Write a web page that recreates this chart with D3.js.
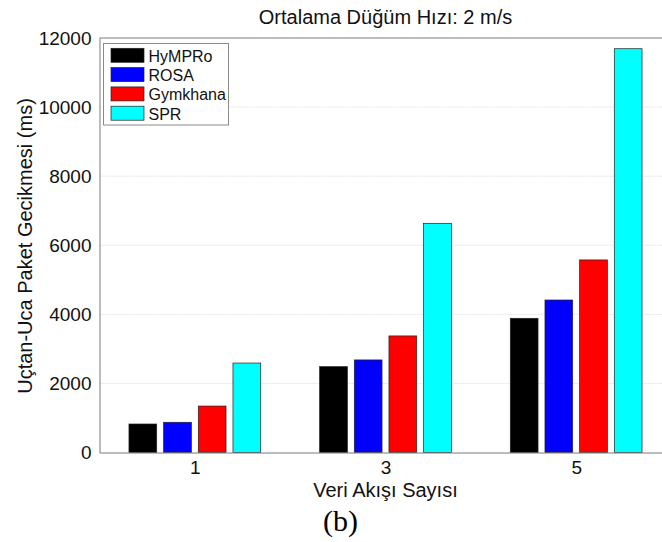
<!DOCTYPE html>
<html>
<head>
<meta charset="utf-8">
<script src="https://cdn.jsdelivr.net/npm/d3@7"></script>
<style>
  html, body { margin: 0; padding: 0; background: #fff; }
  svg { display: block; }
</style>
</head>
<body>
<svg id="chart" width="662" height="542"></svg>
<script>
// Number of data flows on the x axis
const flows = [1, 3, 5];
// Routing protocols compared
const protocols = ["HyMPRo", "ROSA", "Gymkhana", "SPR"];
// End-to-end packet delay (ms) per protocol, one value per flow count
const hympro   = [825, 2485, 3885];
const rosa     = [875, 2680, 4415];
const gymkhana = [1345, 3375, 5575];
const spr      = [2590, 6635, 11690];
const yTicks = [0, 2000, 4000, 6000, 8000, 10000, 12000];
const colors = ["#000000", "#0000ff", "#ff0000", "#00ffff"];

const seriesValues = [hympro, rosa, gymkhana, spr];

const svg = d3.select("#chart");
const W = 662, H = 542;
svg.append("rect").attr("width", W).attr("height", H).attr("fill", "#fff");

const plot = { left: 99.5, right: 671.5, top: 38, bottom: 452.5 };

const x = d3.scaleLinear().domain([0, 6]).range([plot.left, plot.right]);
const y = d3.scaleLinear().domain([0, 12000]).range([plot.bottom, plot.top]);

// grouped bars: group spans 4/(4+1.5) of the spacing between flow values
const groupW = (x(2) - x(0)) * 4 / 5.5;
const inner = d3.scaleBand().domain(protocols).range([0, groupW])
  .paddingInner(0.2).paddingOuter(0.1);

// grid lines
const grid = svg.append("g");
grid.selectAll("line").data(yTicks.filter(t => t > 0 && t < 12000)).join("line")
  .attr("x1", plot.left).attr("x2", plot.right)
  .attr("y1", d => y(d)).attr("y2", d => y(d))
  .attr("stroke", "#e4e4e4").attr("stroke-width", 1)
  .attr("stroke-dasharray", "2,1");

// bars
const bars = svg.append("g");
protocols.forEach((p, i) => {
  bars.selectAll(null).data(seriesValues[i]).join("rect")
    .attr("x", (d, j) => x(flows[j]) - groupW / 2 + inner(p))
    .attr("width", inner.bandwidth())
    .attr("y", d => y(d))
    .attr("height", d => y(0) - y(d))
    .attr("fill", colors[i])
    .attr("stroke", "#222")
    .attr("stroke-width", 0.7);
});

// axes frame
const axisColor = "#7a7a7a";
svg.append("line").attr("x1", plot.left).attr("x2", plot.right)
  .attr("y1", plot.top).attr("y2", plot.top).attr("stroke", axisColor);

const yAxis = d3.axisLeft(y).tickValues(yTicks).tickSize(0).tickPadding(8)
  .tickFormat(d3.format("d"));
const gy = svg.append("g").attr("transform", `translate(${plot.left},0)`).call(yAxis);
gy.select(".domain").attr("stroke", axisColor);
gy.selectAll("text").attr("font-family", "Liberation Sans, Arial, sans-serif")
  .attr("font-size", 19).attr("fill", "#111");

const xAxis = d3.axisBottom(x).tickValues(flows).tickSize(0).tickPadding(8)
  .tickFormat(d3.format("d"));
const gx = svg.append("g").attr("transform", `translate(0,${plot.bottom})`).call(xAxis);
gx.select(".domain").attr("stroke", axisColor);
gx.selectAll("text").attr("font-family", "Liberation Sans, Arial, sans-serif")
  .attr("font-size", 19).attr("fill", "#111");

// titles
const sans = "Liberation Sans, Arial, sans-serif";
svg.append("text").attr("x", 385.5).attr("y", 23.5).attr("text-anchor", "middle")
  .attr("font-family", sans).attr("font-size", 20).attr("fill", "#111")
  .text("Ortalama Düğüm Hızı: 2 m/s");

svg.append("text").attr("x", 385.5).attr("y", 497).attr("text-anchor", "middle")
  .attr("font-family", sans).attr("font-size", 20).attr("fill", "#111")
  .text("Veri Akışı Sayısı");

svg.append("text")
  .attr("transform", `translate(31.5,246) rotate(-90)`)
  .attr("text-anchor", "middle")
  .attr("font-family", sans).attr("font-size", 20).attr("fill", "#111")
  .text("Uçtan-Uca Paket Gecikmesi (ms)");

svg.append("text").attr("x", 340.5).attr("y", 531).attr("text-anchor", "middle")
  .attr("font-family", "Liberation Serif, Times New Roman, serif").attr("font-size", 30)
  .attr("fill", "#000").text("(b)");

// legend
const lg = svg.append("g");
lg.append("rect").attr("x", 103.5).attr("y", 43.5).attr("width", 125).attr("height", 81.5)
  .attr("fill", "#fff").attr("stroke", "#8a8a8a").attr("stroke-width", 1);
protocols.forEach((p, i) => {
  const ry = 48.3 + i * 19.3;
  lg.append("rect").attr("x", 111).attr("y", ry).attr("width", 33).attr("height", 14)
    .attr("fill", colors[i]).attr("stroke", "#222").attr("stroke-width", 0.7);
  lg.append("text").attr("x", 148.5).attr("y", ry + 13.5)
    .attr("font-family", sans).attr("font-size", 16).attr("fill", "#111").text(p);
});
</script>
</body>
</html>
